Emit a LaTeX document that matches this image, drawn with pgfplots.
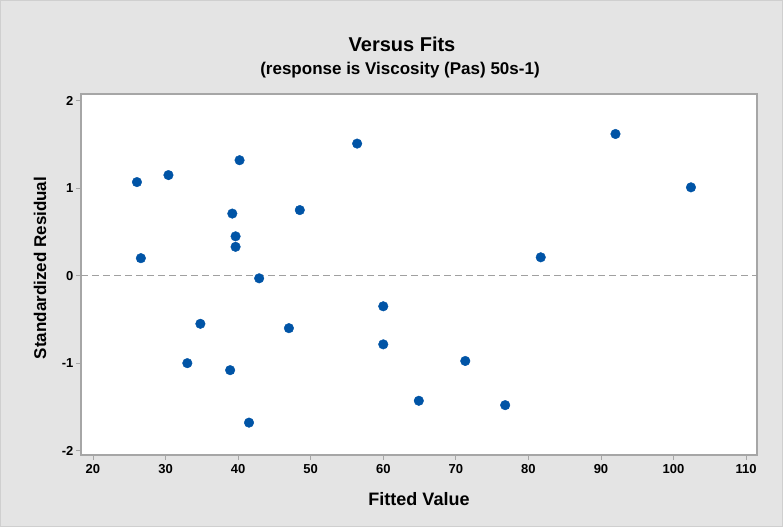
\documentclass[border=0pt]{standalone}
\usepackage{pgfplots}
\pgfplotsset{compat=1.18}
\usepackage{fontspec}
\setmainfont{Liberation Sans}

\definecolor{panelgray}{HTML}{E4E4E4}
\definecolor{frameline}{HTML}{CFCFCF}
\definecolor{axisgray}{HTML}{A6A6A6}
\definecolor{refgray}{HTML}{A0A0A0}
\definecolor{dotblue}{RGB}{0,84,166}

\begin{document}
\begin{tikzpicture}
  % outer panel
  \fill[panelgray] (0,0) rectangle (783pt,527pt);
  \draw[frameline, line width=1pt] (0.5pt,0.5pt) rectangle (782.5pt,526.5pt);
  \useasboundingbox (0,0) rectangle (783pt,527pt);

  \begin{axis}[
    at={(81pt,72pt)}, anchor=south west,
    scale only axis, width=676pt, height=361pt,
    xmin=18.35, xmax=111.5,
    ymin=-2.05, ymax=2.077,
    xtick={20,30,...,110},
    ytick={-2,-1,0,1,2},
    axis background/.style={fill=white},
    axis line style={axisgray, line width=1.3pt},
    tick align=outside,
    major tick length=5pt,
    every tick/.style={axisgray, line width=0.8pt},
    xtick pos=bottom, ytick pos=left,
    /pgf/number format/assume math mode=true,
    ticklabel style={font=\fontsize{13}{15}\selectfont\bfseries},
    xticklabel style={yshift=-1pt},
    yticklabel style={xshift=1pt},
    xlabel={Fitted Value},
    ylabel={Standardized Residual},
    xlabel style={font=\fontsize{18}{20}\selectfont\bfseries,
      at={(axis description cs:0.5,-0.122)}, anchor=center},
    ylabel style={font=\fontsize{17}{20}\selectfont\bfseries,
      at={(axis description cs:-0.0607,0.518)}, anchor=center, rotate=0},
    clip=false,
  ]
    % reference line at zero
    \addplot[refgray, line width=1pt, dash pattern=on 7pt off 4pt, forget plot]
      coordinates {(18.35,0) (111.5,0)};

    % residuals versus fitted values
    \addplot[only marks, mark=*, mark size=4.8pt,
             color=dotblue, mark options={fill=dotblue, draw=dotblue}]
      table {
        x      y
        26.06  1.07
        26.6   0.20
        30.4   1.15
        33.0  -1.00
        34.8  -0.55
        38.9  -1.08
        39.2   0.71
        39.65  0.45
        39.65  0.33
        40.2   1.32
        41.5  -1.68
        42.9  -0.03
        47.0  -0.60
        48.5   0.75
        56.4   1.51
        60.0  -0.35
        60.0  -0.785
        64.9  -1.43
        71.3  -0.975
        76.8  -1.48
        81.7   0.21
        92.0   1.62
        102.4  1.01
      };
  \end{axis}

  \node[font=\fontsize{20}{22}\selectfont\bfseries] at (402pt,483pt) {Versus Fits};
  \node[font=\fontsize{17}{19}\selectfont\bfseries] at (400pt,457pt)
    {(response is Viscosity (Pas) 50s-1)};
\end{tikzpicture}
\end{document}
